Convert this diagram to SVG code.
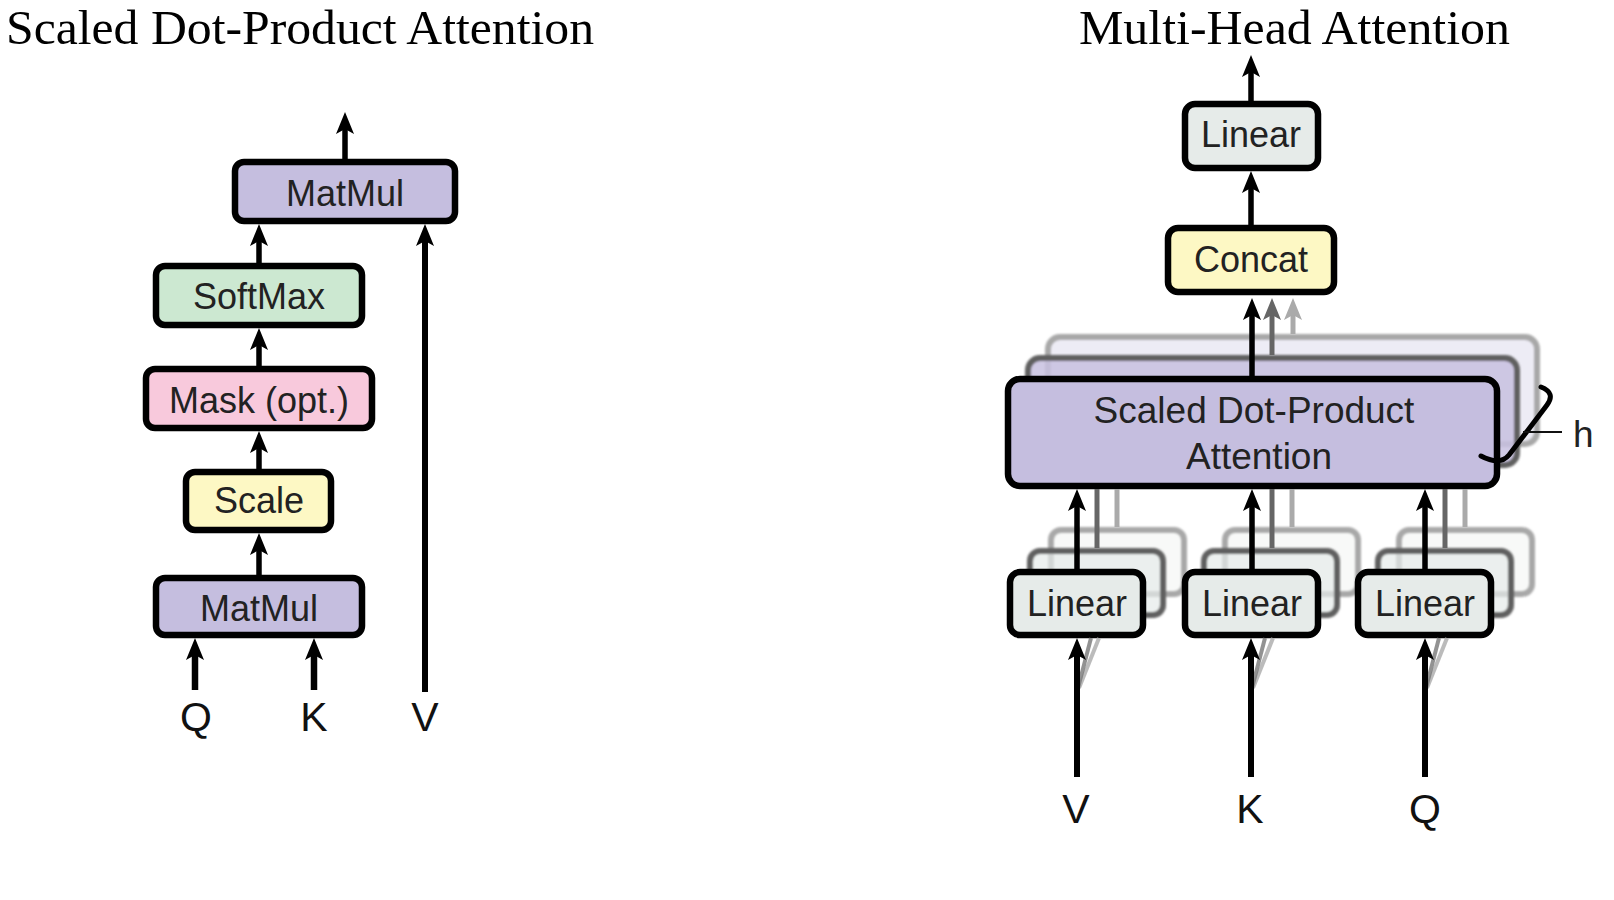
<svg xmlns="http://www.w3.org/2000/svg" width="1614" height="900" viewBox="0 0 1614 900">
<defs>
<style>
.box{stroke:#000;stroke-width:6.5}
.mid{stroke:#606060;stroke-width:6}
.back{stroke:#a8a8a8;stroke-width:6}
.t{font-family:"Liberation Sans",Arial,Helvetica,sans-serif;font-size:36px;fill:#222;text-anchor:middle}
.lab{font-family:"Liberation Sans",Arial,Helvetica,sans-serif;font-size:41px;fill:#111;text-anchor:middle}
.title{font-family:"Liberation Serif","Times New Roman",serif;font-size:49px;fill:#000}
.ln{stroke:#000;stroke-width:5.5;fill:none;marker-end:url(#ah)}
.ln2{stroke:#666;stroke-width:5;fill:none;marker-end:url(#ah2)}
.ln3{stroke:#aaa;stroke-width:5;fill:none;marker-end:url(#ah3)}
.l2{stroke:#666;stroke-width:5;fill:none}
.l3{stroke:#aaa;stroke-width:5;fill:none}
.d2{stroke:#777;stroke-width:4;fill:none;opacity:.8}
.d3{stroke:#aaa;stroke-width:4;fill:none;opacity:.8}
.purple{fill:#c5bedf}
.green{fill:#cce8d1}
.pink{fill:#f8c9dc}
.yellow{fill:#fdf8c4}
.gray{fill:#e6ebe9}
</style>
<marker id="ah" markerUnits="userSpaceOnUse" markerWidth="22" markerHeight="18" viewBox="0 0 22 18" refX="10" refY="9" orient="auto"><path d="M0,0 L22,9 L0,18 L5,9 Z" fill="#000"/></marker>
<marker id="ah2" markerUnits="userSpaceOnUse" markerWidth="22" markerHeight="18" viewBox="0 0 22 18" refX="10" refY="9" orient="auto"><path d="M0,0 L22,9 L0,18 L5,9 Z" fill="#666"/></marker>
<marker id="ah3" markerUnits="userSpaceOnUse" markerWidth="22" markerHeight="18" viewBox="0 0 22 18" refX="10" refY="9" orient="auto"><path d="M0,0 L22,9 L0,18 L5,9 Z" fill="#aaa"/></marker>
<filter id="soft" x="-5%" y="-10%" width="110%" height="120%"><feGaussianBlur stdDeviation="1.1"/></filter>
</defs>
<rect width="1614" height="900" fill="#fff"/>

<text class="title" x="6" y="44" textLength="588" lengthAdjust="spacingAndGlyphs">Scaled Dot-Product Attention</text>
<text class="title" x="1079" y="44" textLength="431" lengthAdjust="spacingAndGlyphs">Multi-Head Attention</text>

<!-- Left: Scaled Dot-Product Attention -->
<g id="matmul-top"><rect class="box purple" x="235" y="162" width="220" height="59" rx="9"/><text class="t" x="345" y="206">MatMul</text></g>
<g id="softmax"><rect class="box green" x="156" y="266" width="206" height="59" rx="9"/><text class="t" x="259" y="309">SoftMax</text></g>
<g id="mask"><rect class="box pink" x="146" y="369" width="226" height="59" rx="9"/><text class="t" x="259" y="413">Mask (opt.)</text></g>
<g id="scale"><rect class="box yellow" x="186" y="472" width="145" height="58" rx="9"/><text class="t" x="259" y="513">Scale</text></g>
<g id="matmul-bottom"><rect class="box purple" x="156" y="578" width="206" height="57" rx="9"/><text class="t" x="259" y="621">MatMul</text></g>
<g id="left-inputs"><text class="lab" x="196" y="731">Q</text><text class="lab" x="314" y="731">K</text><text class="lab" x="425" y="731">V</text></g>

<!-- Right: Multi-Head Attention -->
<g id="linear-out"><rect class="box gray" x="1185" y="104" width="133" height="64" rx="10"/><text class="t" x="1251" y="147">Linear</text></g>
<g id="concat"><rect class="box yellow" x="1168" y="228" width="166" height="64" rx="10"/><text class="t" x="1251" y="272">Concat</text></g>

<g id="sdpa-stack">
<rect class="back" x="1048" y="337" width="489" height="107" rx="12" fill="#e7e5f2" fill-opacity="0.75" filter="url(#soft)"/>
<rect class="mid" x="1028" y="358" width="489" height="107" rx="12" fill="#c8c1e0" fill-opacity="0.85" filter="url(#soft)"/>
<rect class="box purple" x="1008" y="379" width="489" height="107" rx="12"/>
<text class="t" x="1254" y="423" style="font-size:37px">Scaled Dot-Product</text>
<text class="t" x="1259" y="469" style="font-size:37px">Attention</text>
</g>

<g id="heads-label">
<path d="M1541,387 Q1556,393 1547,405 L1509,455 Q1500,466 1481,456" fill="none" stroke="#000" stroke-width="5" stroke-linecap="round"/>
<line x1="1523" y1="432" x2="1562" y2="432" stroke="#111" stroke-width="2.2"/>
<text x="1573" y="447" style="font-family:'Liberation Sans',Arial,sans-serif;font-size:37px;fill:#222">h</text>
</g>

<g id="linear-v">
<rect class="back" x="1051" y="530" width="133" height="64" rx="10" fill="#f3f5f4" fill-opacity="0.6" filter="url(#soft)"/>
<rect class="mid" x="1030" y="551" width="133" height="64" rx="10" fill="#e6ebe9" fill-opacity="0.7" filter="url(#soft)"/>
<rect class="box gray" x="1010" y="572" width="133" height="63" rx="10"/>
<text class="t" x="1077" y="616">Linear</text>
</g>
<g id="linear-k">
<rect class="back" x="1225" y="530" width="133" height="64" rx="10" fill="#f3f5f4" fill-opacity="0.6" filter="url(#soft)"/>
<rect class="mid" x="1204" y="551" width="133" height="64" rx="10" fill="#e6ebe9" fill-opacity="0.7" filter="url(#soft)"/>
<rect class="box gray" x="1185" y="572" width="133" height="63" rx="10"/>
<text class="t" x="1252" y="616">Linear</text>
</g>
<g id="linear-q">
<rect class="back" x="1399" y="530" width="133" height="64" rx="10" fill="#f3f5f4" fill-opacity="0.6" filter="url(#soft)"/>
<rect class="mid" x="1378" y="551" width="133" height="64" rx="10" fill="#e6ebe9" fill-opacity="0.7" filter="url(#soft)"/>
<rect class="box gray" x="1358" y="572" width="133" height="63" rx="10"/>
<text class="t" x="1425" y="616">Linear</text>
</g>
<g id="right-inputs"><text class="lab" x="1076" y="823">V</text><text class="lab" x="1250" y="823">K</text><text class="lab" x="1425" y="823">Q</text></g>

<g id="connectors">
<!-- left -->
<line class="ln" x1="345" y1="159" x2="345" y2="124"/>
<line class="ln" x1="259" y1="263" x2="259" y2="236"/>
<line class="ln" x1="259" y1="366" x2="259" y2="340"/>
<line class="ln" x1="259" y1="469" x2="259" y2="443"/>
<line class="ln" x1="259" y1="575" x2="259" y2="545"/>
<line class="ln" x1="195" y1="690" x2="195" y2="650" style="stroke-width:6.5"/>
<line class="ln" x1="314" y1="690" x2="314" y2="650" style="stroke-width:6.5"/>
<line class="ln" x1="425" y1="692" x2="425" y2="236" style="stroke-width:6"/>
<!-- right top -->
<line class="ln" x1="1251" y1="101" x2="1251" y2="67"/>
<line class="ln" x1="1251" y1="225" x2="1251" y2="183"/>
<line class="ln" x1="1252" y1="376" x2="1252" y2="310"/>
<line class="ln2" x1="1272" y1="355" x2="1272" y2="310"/>
<line class="ln3" x1="1293" y1="334" x2="1293" y2="310"/>
<!-- linears to SDPA -->
<line class="ln" x1="1077" y1="569" x2="1077" y2="501"/>
<line class="l2" x1="1097" y1="548" x2="1097" y2="489"/>
<line class="l3" x1="1117" y1="527" x2="1117" y2="489"/>
<line class="ln" x1="1252" y1="569" x2="1252" y2="501"/>
<line class="l2" x1="1272" y1="548" x2="1272" y2="489"/>
<line class="l3" x1="1292" y1="527" x2="1292" y2="489"/>
<line class="ln" x1="1425" y1="569" x2="1425" y2="501"/>
<line class="l2" x1="1445" y1="548" x2="1445" y2="489"/>
<line class="l3" x1="1465" y1="527" x2="1465" y2="489"/>
<!-- inputs -->
<line class="d3" x1="1079" y1="688" x2="1099" y2="638"/>
<line class="d2" x1="1078" y1="688" x2="1091" y2="638"/>
<line class="ln" x1="1077" y1="777" x2="1077" y2="650" style="stroke-width:6"/>
<line class="d3" x1="1253" y1="688" x2="1273" y2="638"/>
<line class="d2" x1="1252" y1="688" x2="1265" y2="638"/>
<line class="ln" x1="1251" y1="777" x2="1251" y2="650" style="stroke-width:6"/>
<line class="d3" x1="1427" y1="688" x2="1447" y2="638"/>
<line class="d2" x1="1426" y1="688" x2="1439" y2="638"/>
<line class="ln" x1="1425" y1="777" x2="1425" y2="650" style="stroke-width:6"/>
</g>
</svg>
